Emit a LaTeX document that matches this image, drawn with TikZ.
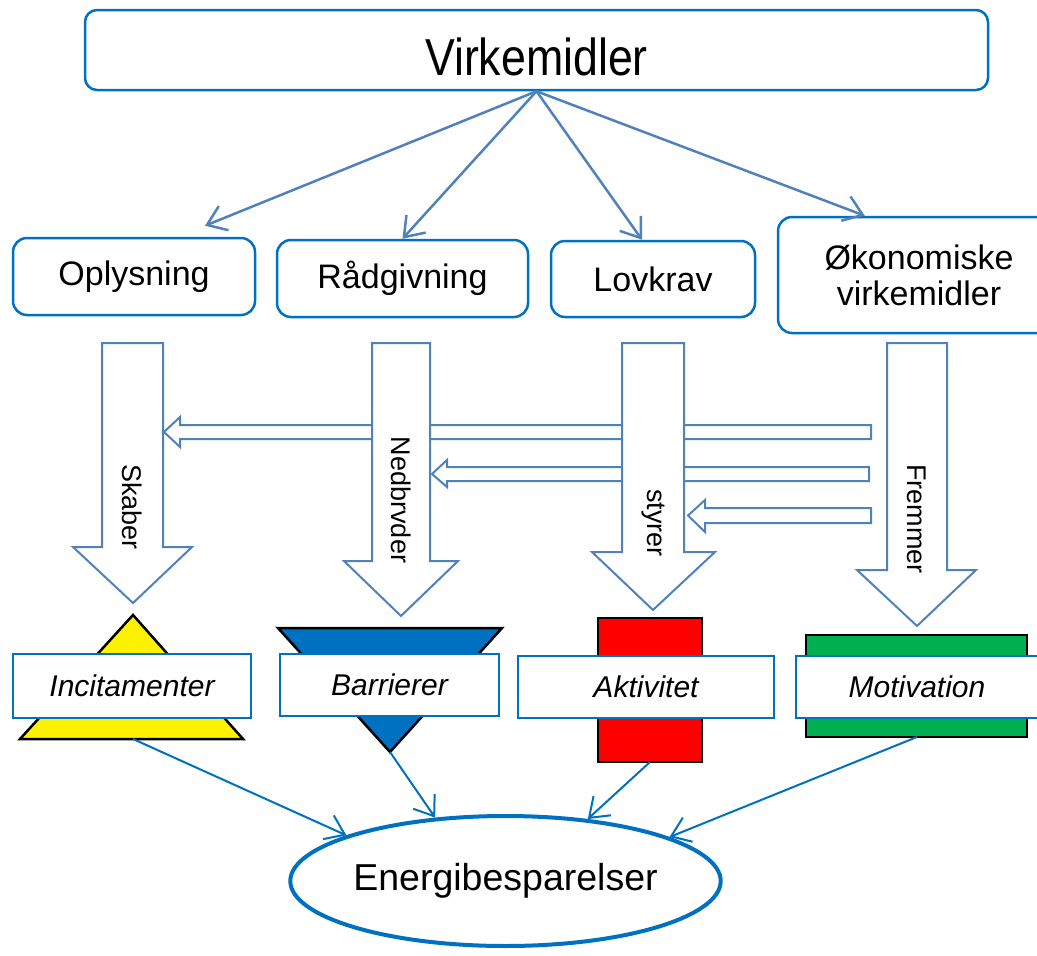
\documentclass[tikz,border=0pt]{standalone}
\usepackage{fontspec}
\usepackage{graphicx}
\setmainfont{Liberation Sans}
\usetikzlibrary{arrows.meta,shapes.geometric}
\definecolor{boxblue}{HTML}{0070C0}
\definecolor{arrowblue}{HTML}{4F81BD}
\definecolor{barblue}{HTML}{0070C0}
\definecolor{okgreen}{HTML}{00B050}

\begin{document}
\begin{tikzpicture}[x=1pt,y=-1pt]

  % Definitions
  \tikzstyle{box} = [rectangle, rounded corners=14pt, draw=boxblue, line width=2.5pt, fill=white, align=center, font=\fontsize{34}{36}\selectfont]
  \tikzstyle{result} = [rectangle, draw=boxblue, line width=2.5pt, fill=white, text centered, font=\fontsize{30}{36}\selectfont\itshape]
  \tikzstyle{goal} = [ellipse, draw=boxblue, line width=4pt, fill=white, inner sep=0pt, font=\fontsize{37.5}{40}\selectfont]
  \tikzstyle{arrow} = [draw=arrowblue, line width=2.5pt, -{Straight Barb[length=18pt,width=26pt]}]
  \tikzstyle{link} = [draw=boxblue, line width=2pt, -{Straight Barb[length=18pt,width=26pt]}]
  \tikzstyle{blockarrow} = [draw=arrowblue, line width=2pt, fill=white, line join=miter]
  \tikzstyle{verb} = [rotate=-90, font=\fontsize{27}{30}\selectfont]
  \tikzstyle{marker} = [draw=black, line width=2.5pt, line join=miter]

  \useasboundingbox (0,0) rectangle (1037,956);
  \clip (0,0) rectangle (1037,956);

  % top
  \node (virk) [box, rounded corners=12pt, minimum width=903pt, minimum height=80pt, text height=50pt, text depth=0pt] at (536.5,50) {\fontsize{52}{56}\selectfont\scalebox{0.86}[1]{Virkemidler}};

  \node (opl) [box, minimum width=242pt, minimum height=77pt] at (134,276.5) {Oplysning};
  \node (raad) [box, minimum width=251pt, minimum height=77pt] at (402.5,278.5) {Rådgivning};
  \node (lov) [box, minimum width=204pt, minimum height=76pt] at (653,279) {Lovkrav};
  \node (okon) [box, minimum width=282pt, minimum height=116pt] at (919,275) {Økonomiske\\virkemidler};

  \draw [arrow] (virk.south) -- ([xshift=71pt,yshift=11pt]opl.north);
  \draw [arrow] (virk.south) -- (raad.north);
  \draw [arrow] (virk.south) -- ([xshift=-11pt]lov.north);
  \draw [arrow] (virk.south) -- ([xshift=88pt]okon.north west);

  % horizontal block arrows (behind)
  \draw [blockarrow] (871,425) -- (180,425) -- (180,417) -- (164,432) -- (180,447) -- (180,439) -- (871,439) -- cycle;
  \draw [blockarrow] (869,467) -- (447,467) -- (447,460) -- (432,474) -- (447,487) -- (447,481) -- (869,481) -- cycle;
  \draw [blockarrow] (871,508) -- (705,508) -- (705,500) -- (688,515.5) -- (705,532) -- (705,523) -- (871,523) -- cycle;

  % vertical block arrows
  \draw [blockarrow] (102,343) -- (163,343) -- (163,547) -- (192,547) -- (133,603) -- (73,547) -- (102,547) -- cycle;
  \draw [blockarrow] (372,343) -- (430,343) -- (430,561) -- (458,561) -- (401,616) -- (344,561) -- (372,561) -- cycle;
  \draw [blockarrow] (622,343) -- (684,343) -- (684,552) -- (715,552) -- (653,610) -- (592,552) -- (622,552) -- cycle;
  \draw [blockarrow] (887,343) -- (947,343) -- (947,570) -- (976,570) -- (917,626) -- (857,570) -- (887,570) -- cycle;

  \node (skaber) [verb] at (132.5,507) {Skaber};
  \node (nedbr) [verb] at (401,500) {Nedbrvder};
  \node (styrer) [verb] at (653,523) {styrer};
  \node (fremmer) [verb] at (917,519) {Fremmer};

  % markers
  \draw [marker, fill=yellow] (133,615) -- (243,739) -- (20,739) -- cycle;
  \draw [marker, fill=barblue] (278,628) -- (502,628) -- (390,752) -- cycle;
  \draw [marker, fill=red] (598,618) rectangle (702,762);
  \draw [marker, fill=okgreen] (806,635) rectangle (1027,737);

  \coordinate (incb) at (133,739);
  \coordinate (barb) at (390,752);
  \coordinate (aktb) at (650,762);
  \coordinate (motb) at (917,737);

  \node (inc) [result, minimum width=238pt, minimum height=64pt] at (132,686) {Incitamenter};
  \node (bar) [result, minimum width=219pt, minimum height=62pt] at (389.5,685) {Barrierer};
  \node (akt) [result, minimum width=256pt, minimum height=62pt] at (646,687) {Aktivitet};
  \node (mot) [result, minimum width=242pt, minimum height=62pt] at (917,687) {Motivation};

  % goal
  \node (energi) [goal, minimum width=425pt, minimum height=130pt] at (505.5,881) {Energibesparelser};

  \draw [link] (incb) -- (energi.164);
  \draw [link] (barb) -- (energi.138);
  \draw [link] (aktb) -- (energi.37);
  \draw [link] (motb) -- (energi.15);

\end{tikzpicture}
\end{document}
